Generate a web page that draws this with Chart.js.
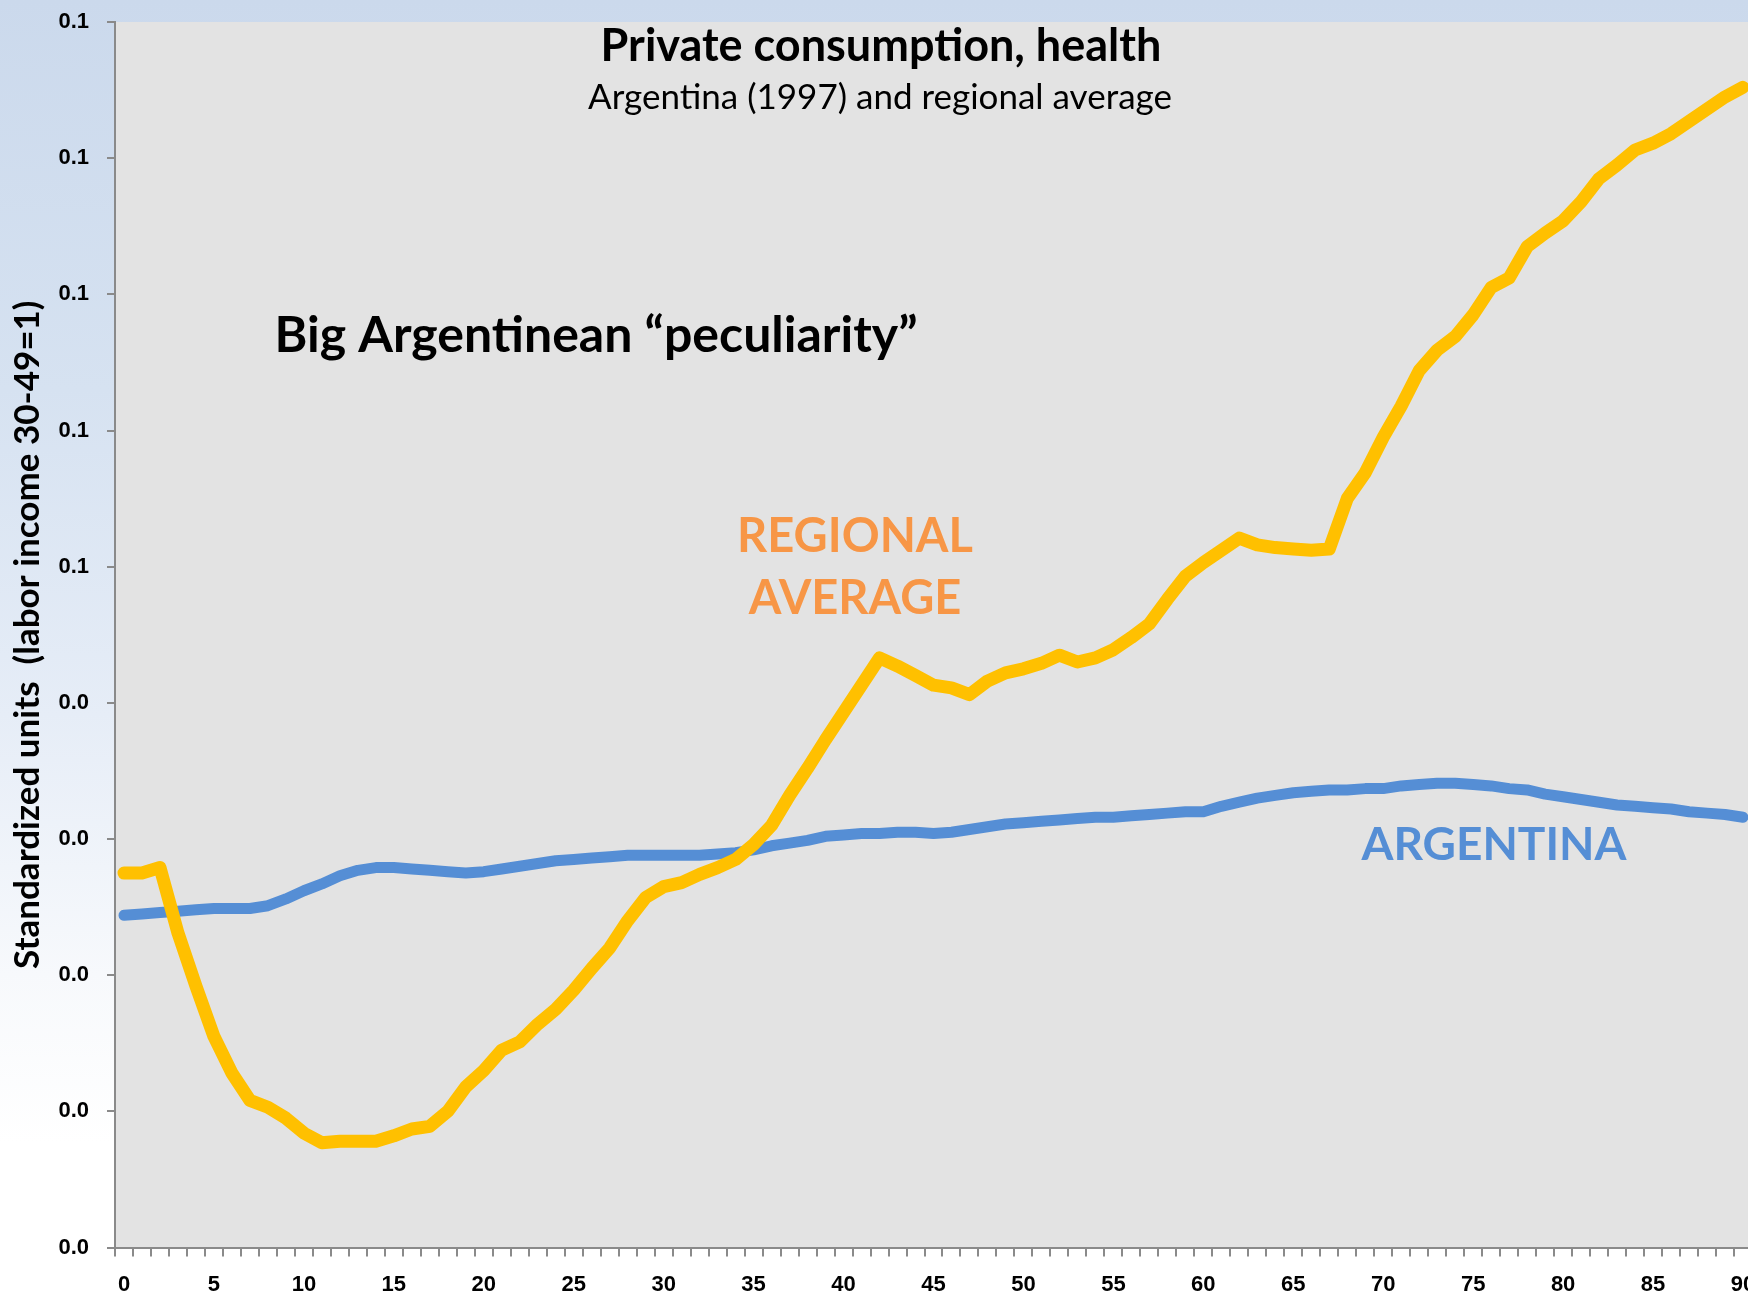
<!DOCTYPE html>
<html>
<head>
<meta charset="utf-8">
<script src="https://cdn.jsdelivr.net/npm/chart.js@4.4.1/dist/chart.umd.min.js"></script>
<style>
html,body{margin:0;padding:0;overflow:hidden}
body{
width:1748px;height:1299px;
background:linear-gradient(180deg,#cbd9ec 0%,#d6e2f1 30%,#e6edf7 55%,#f7f9fc 75%,#ffffff 88%);
}
#wrap{position:absolute;left:0;top:0;width:1752px;height:1299px}
</style>
</head>
<body>
<div id="wrap"><canvas id="chart"></canvas></div>
<script>
// ages 0..90
const ages=Array.from({length:91},(_,i)=>i)

// regional average (yellow)
const regional=[
0.0275,0.0275,0.0279,0.0231,0.0192,0.0155,0.0128,0.0108,0.0103,0.0095,
0.0084,0.0077,0.0078,0.0078,0.0078,0.0082,0.0087,0.0089,0.0100,0.0118,
0.0130,0.0145,0.0151,0.0164,0.0175,0.0189,0.0205,0.0220,0.0240,0.0257,
0.0265,0.0268,0.0274,0.0279,0.0285,0.0296,0.0310,0.0332,0.0352,0.0373,
0.0393,0.0413,0.0433,0.0427,0.0420,0.0413,0.0411,0.0406,0.0416,0.0422,
0.0425,0.0429,0.0435,0.0430,0.0433,0.0439,0.0448,0.0458,0.0476,0.0493,
0.0503,0.0512,0.0521,0.0516,0.0514,0.0513,0.0512,0.0513,0.0550,0.0569,
0.0595,0.0618,0.0644,0.0659,0.0669,0.0685,0.0705,0.0712,0.0735,0.0745,
0.0754,0.0768,0.0785,0.0795,0.0806,0.0811,0.0818,0.0827,0.0836,0.0845,
0.0852]

// Argentina 1997 (blue)
const argentina=[
0.0244,0.0245,0.0246,0.0247,0.0248,0.0249,0.0249,0.0249,0.0251,0.0256,
0.0262,0.0267,0.0273,0.0277,0.0279,0.0279,0.0278,0.0277,0.0276,0.0275,
0.0276,0.0278,0.0280,0.0282,0.0284,0.0285,0.0286,0.0287,0.0288,0.0288,
0.0288,0.0288,0.0288,0.0289,0.0290,0.0292,0.0295,0.0297,0.0299,0.0302,
0.0303,0.0304,0.0304,0.0305,0.0305,0.0304,0.0305,0.0307,0.0309,0.0311,
0.0312,0.0313,0.0314,0.0315,0.0316,0.0316,0.0317,0.0318,0.0319,0.0320,
0.0320,0.0324,0.0327,0.0330,0.0332,0.0334,0.0335,0.0336,0.0336,0.0337,
0.0337,0.0339,0.0340,0.0341,0.0341,0.0340,0.0339,0.0337,0.0336,0.0333,
0.0331,0.0329,0.0327,0.0325,0.0324,0.0323,0.0322,0.0320,0.0319,0.0318,
0.0316]

// y tick labels as printed in the source (one decimal)
const yTickLabels=["0.0","0.0","0.0","0.0","0.0","0.1","0.1","0.1","0.1","0.1"]

const texts=[
{t:"Private consumption, health",x:881,y:46,font:"bold 45px Lato",color:"#000"},
{t:"Argentina (1997) and regional average",x:880,y:98,font:"35px Lato",color:"#000"},
{t:"Big Argentinean \u201cpeculiarity\u201d",x:596,y:336,font:"bold 50px Lato",color:"#000"},
{t:"REGIONAL",x:855,y:537,font:"bold 47px Lato",color:"#f79646"},
{t:"AVERAGE",x:855,y:599,font:"bold 47px Lato",color:"#f79646"},
{t:"ARGENTINA",x:1494,y:845,font:"bold 46px Lato",color:"#558ed5"}
]

const deco={
id:"deco",
beforeDraw(chart){
const {ctx,chartArea:a}=chart
ctx.save()
ctx.fillStyle="#e3e3e3"
ctx.fillRect(a.left,a.top,a.right-a.left,a.bottom-a.top)
ctx.restore()
},
beforeDatasetsDraw(chart){
const {ctx,chartArea:a}=chart
ctx.save()
ctx.textAlign="center"
ctx.textBaseline="middle"
texts.forEach(o=>{
ctx.font=o.font
ctx.fillStyle=o.color
ctx.fillText(o.t,o.x,o.y)
})
// y axis title
ctx.translate(28,(a.top+a.bottom)/2)
ctx.rotate(-Math.PI/2)
ctx.font="bold 35px Lato"
ctx.fillStyle="#000"
ctx.fillText("Standardized units  (labor income 30-49=1)",0,0)
ctx.restore()
}
}

new Chart(document.getElementById("chart"),{
type:"line",
data:{
labels:ages,
datasets:[
{
label:"Regional average",
data:regional,
borderColor:"#ffc000",
borderWidth:13,
pointRadius:0,
tension:0,
borderJoinStyle:"round",
borderCapStyle:"round"
},
{
label:"Argentina",
data:argentina,
borderColor:"#558ed5",
borderWidth:11,
pointRadius:0,
tension:0,
borderJoinStyle:"round",
borderCapStyle:"round"
}
]
},
options:{
responsive:true,
maintainAspectRatio:false,
animation:false,
layout:{padding:{top:22,left:0,right:0,bottom:0}},
plugins:{legend:{display:false},tooltip:{enabled:false}},
scales:{
x:{
type:"category",
offset:true,
afterFit(s){s.height=51.5;s.paddingLeft=0;s.paddingRight=0},
grid:{display:true,drawOnChartArea:false,offset:true,tickLength:9,color:"#8a8a8a",lineWidth:2},
border:{display:true,color:"#8a8a8a",width:2},
ticks:{
autoSkip:false,
maxRotation:0,
padding:15,
color:"#000",
font:{family:"'Liberation Sans', Arial, sans-serif",size:22,weight:"bold"},
callback:(v,i)=>ages[i]%5===0?String(ages[i]):""
}
},
y:{
min:0,
max:0.09,
afterFit(s){s.width=115;s.paddingTop=0;s.paddingBottom=0},
grid:{display:true,drawOnChartArea:false,tickLength:8,color:"#8a8a8a",lineWidth:2},
border:{display:true,color:"#8a8a8a",width:2},
ticks:{
stepSize:0.01,
padding:18,
color:"#000",
font:{family:"'Liberation Sans', Arial, sans-serif",size:22,weight:"bold"},
callback:(v,i)=>yTickLabels[i]
}
}
}
},
plugins:[deco]
})
</script>
</body>
</html>
